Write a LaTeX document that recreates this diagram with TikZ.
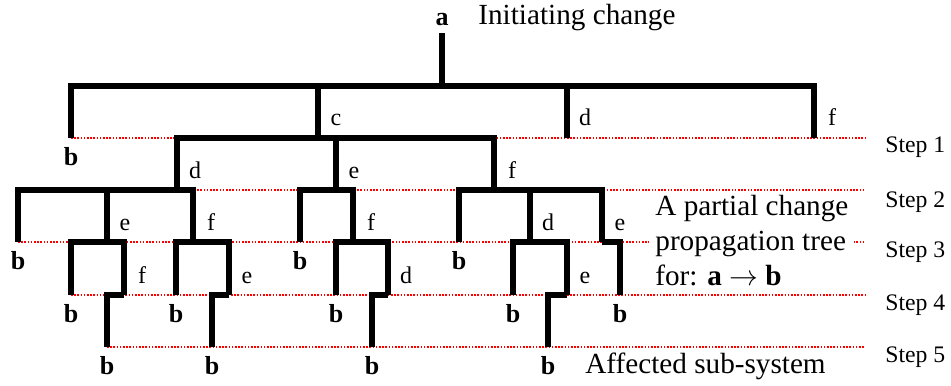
\documentclass[tikz,border=0pt]{standalone}
\usepackage{fontspec}
\setmainfont{Liberation Serif}

\begin{document}
\begin{tikzpicture}[x=0.5pt, y=-0.5pt,
		branch/.style={line width=2.7pt, line join=miter},
		guide/.style={red, line width=0.8pt, dash pattern=on 0.8pt off 0.8pt},
		lab/.style={anchor=base, inner sep=0pt, xshift=9pt, yshift=6pt, font=\fontsize{12}{14}\selectfont},
		leaf/.style={anchor=base, inner sep=0pt, yshift=-13.5pt, font=\bfseries\fontsize{13}{15}\selectfont},
		note/.style={inner sep=0pt, font=\fontsize{14.6}{17.5}\selectfont},
		steplab/.style={anchor=base west, inner sep=0pt, font=\fontsize{11.85}{14}\selectfont}]
		\useasboundingbox (0,0) rectangle (951,385);

		% vertices of the tree, each at the lower end of its branch
		\coordinate (a) at (442,86);
		\coordinate (ab) at (71,138);   \coordinate (ac) at (318,138);
		\coordinate (ad) at (567,138);  \coordinate (af) at (814,138);
		\coordinate (acd) at (177,190); \coordinate (ace) at (336,190); \coordinate (acf) at (494,190);
		\coordinate (acdb) at (18,242); \coordinate (acde) at (107,242); \coordinate (acdf) at (193,242);
		\coordinate (acdeb) at (71,295); \coordinate (acdef) at (124,295); \coordinate (acdefb) at (107,347);
		\coordinate (acdfb) at (176,295); \coordinate (acdfe) at (229,295); \coordinate (acdfeb) at (212,347);
		\coordinate (aceb) at (300,242); \coordinate (acef) at (353,242);
		\coordinate (acefb) at (336,295); \coordinate (acefd) at (388,295); \coordinate (acefdb) at (372,347);
		\coordinate (acfb) at (459,242); \coordinate (acfd) at (530,242); \coordinate (acfe) at (602,242);
		\coordinate (acfdb) at (513,295); \coordinate (acfde) at (567,295); \coordinate (acfdeb) at (548,347);
		\coordinate (acfeb) at (620,295);
		\coordinate (edge) at (865,0);

		% dotted step lines
		\draw[guide] (ab) -- (ab -| edge);
		\draw[guide] (acdb |- acd) -- (acd -| edge);
		\draw[guide] (acdb) -- (acdb -| edge);
		\draw[guide] (acdeb) -- (acdeb -| edge);
		\draw[guide] (acdefb) -- (acdefb -| edge);
		\foreach \v/\y [count=\i] in {ab/152, acd/207, acdb/257, acdeb/310, acdefb/362}
			\node[steplab] (step\i) at (885,\y) {Step \i};

		% the tree
		\node[leaf, yshift=13.5pt, inner ysep=3pt] (top) at (442,26) {a};
		\draw[branch] (a) -- (top);
		\draw[branch] (ab) |- (a) -| (af);
		\draw[branch] (ac) -- (ac |- a);
		\draw[branch] (ad) -- (ad |- a);
		\draw[branch] (acd) |- (ac) -| (acf);
		\draw[branch] (ace) -- (ace |- ac);
		\draw[branch] (acdb) |- (acd) -| (acdf);
		\draw[branch] (acde) -- (acde |- acd);
		\draw[branch] (acdeb) |- (acde) -| (acdef);
		\draw[branch] (acdef) -| (acdefb);
		\draw[branch] (acdfb) |- (acdf) -| (acdfe);
		\draw[branch] (acdfe) -| (acdfeb);
		\draw[branch] (aceb) |- (ace) -| (acef);
		\draw[branch] (acefb) |- (acef) -| (acefd);
		\draw[branch] (acefd) -| (acefdb);
		\draw[branch] (acfb) |- (acf) -| (acfe);
		\draw[branch] (acfd) -- (acfd |- acf);
		\draw[branch] (acfdb) |- (acfd) -| (acfde);
		\draw[branch] (acfde) -| (acfdeb);
		\draw[branch] (acfe) -| (acfeb);

		% names on the branches
		\foreach \v/\t in {ac/c, ad/d, af/f, acd/d, ace/e, acf/f, acde/e, acdf/f, acef/f, acfd/d,
			acfe/e, acdef/f, acdfe/e, acefd/d, acfde/e}
			\node[lab] (\v-l) at (\v) {\t};
		\foreach \v in {ab, acdb, aceb, acfb, acdeb, acdfb, acefb, acfdb, acfeb, acdefb, acdfeb, acefdb, acfdeb}
			\node[leaf] (\v-l) at (\v) {b};

		\node[note, anchor=base west] (init) at (478,25) {Initiating change};
		\node[note, anchor=base west] (affected) at (585,373) {Affected sub-system};
		\node[note, anchor=west, align=left, fill=white, inner xsep=3pt, inner ysep=1pt] (tree) at (649,241)
			{A partial change\\propagation tree\\for: \textbf{a} $\rightarrow$ \textbf{b}};

\end{tikzpicture}
\end{document}
